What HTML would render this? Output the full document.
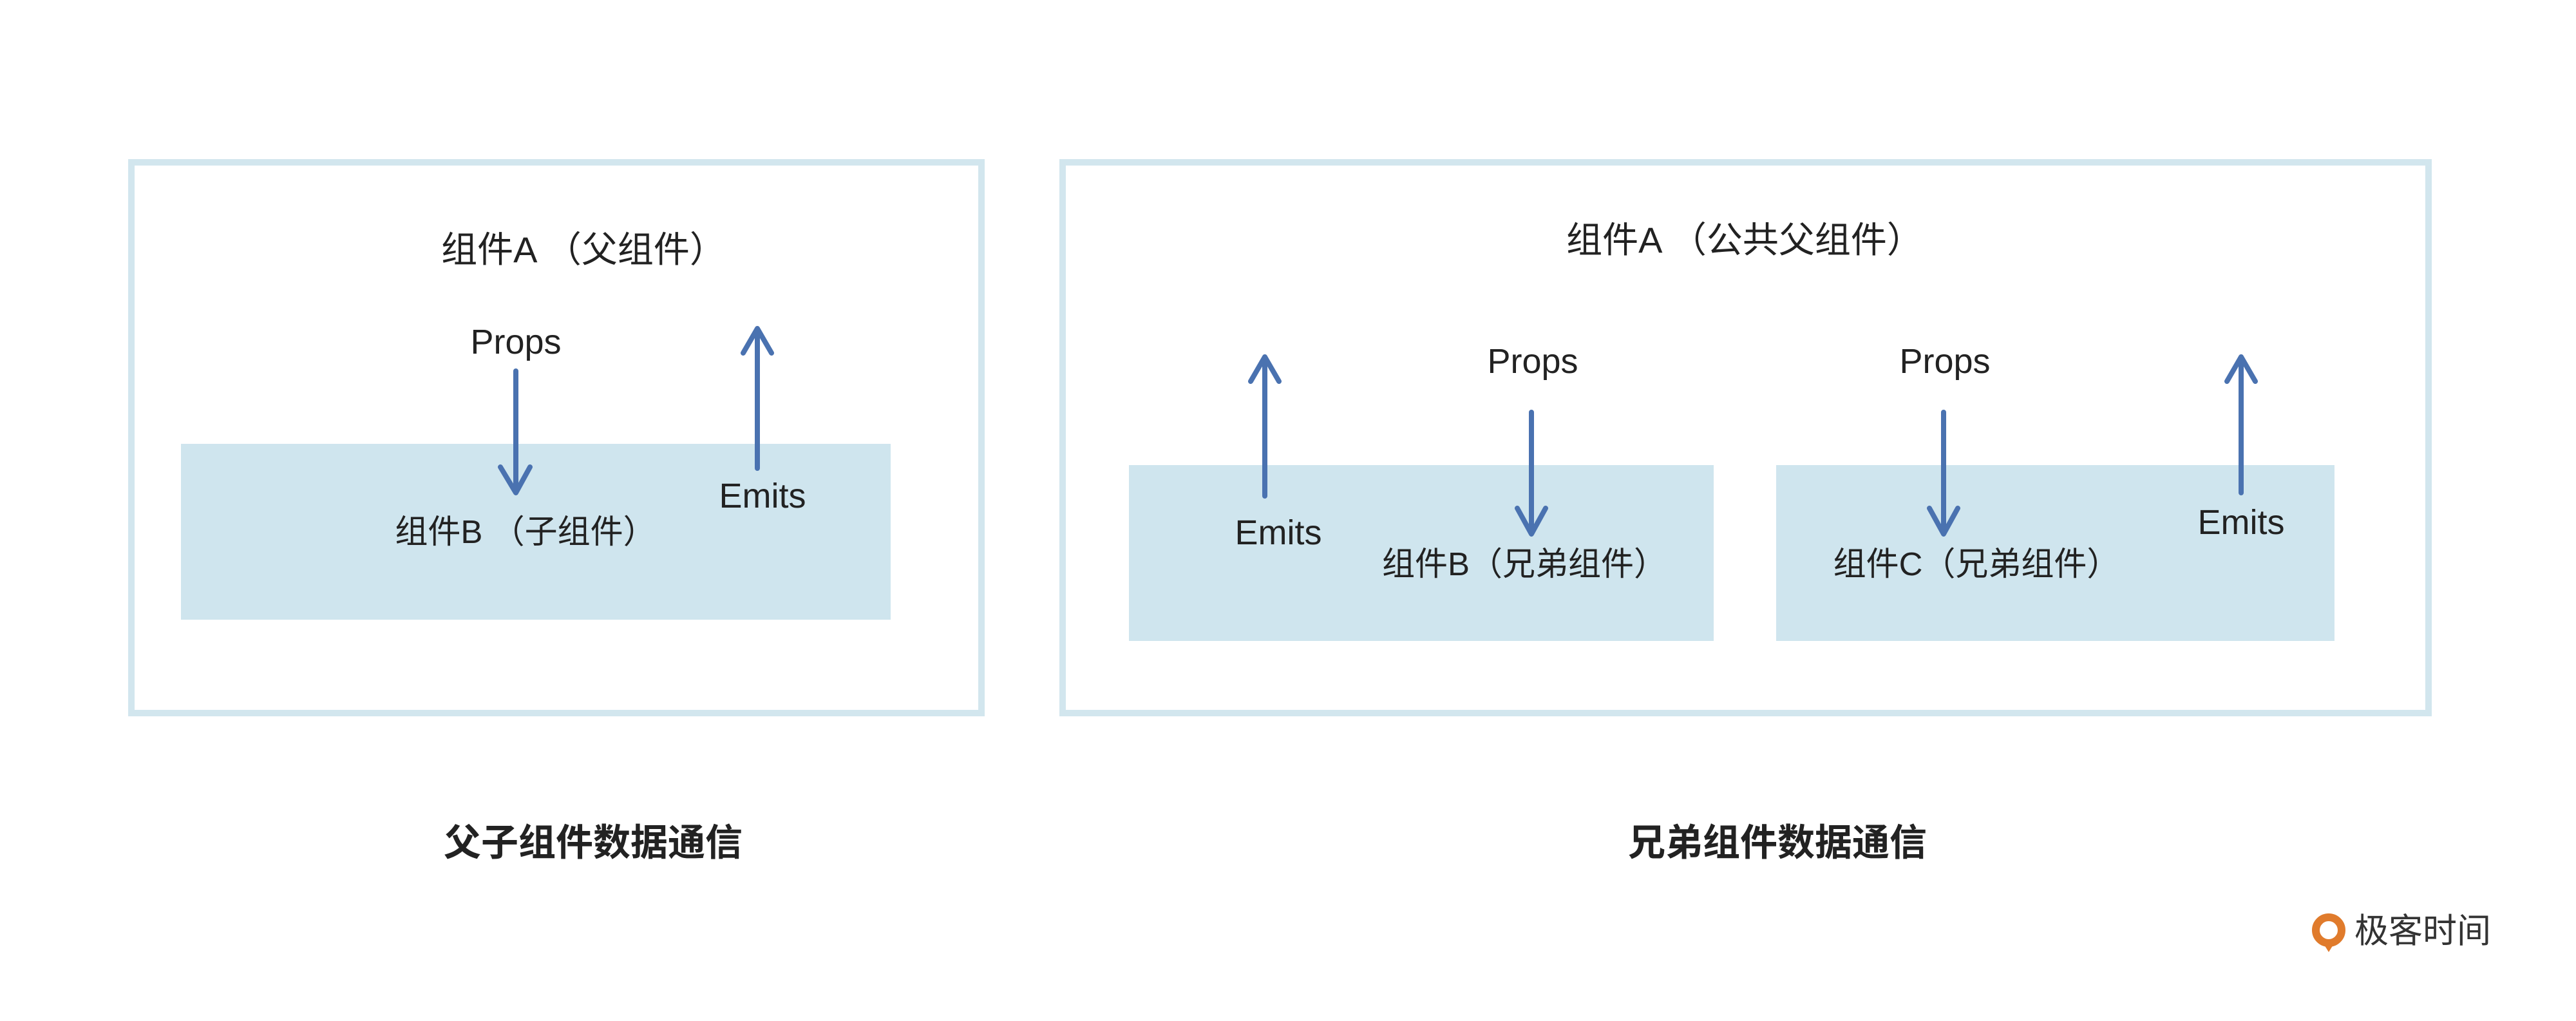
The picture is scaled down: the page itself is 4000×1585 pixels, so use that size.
<!DOCTYPE html>
<html><head><meta charset="utf-8"><style>
html,body{margin:0;padding:0;background:#fff;}
svg{display:block;}
text{font-family:"Liberation Sans","Noto Sans CJK SC",sans-serif;fill:#222;}
</style></head><body>
<svg width="4000" height="1585" viewBox="0 0 4000 1585" xmlns="http://www.w3.org/2000/svg">
<rect width="4000" height="1585" fill="#fff"/>
<rect x="204" y="252" width="1320" height="855" fill="none" stroke="#d2e6ee" stroke-width="10"/>
<rect x="1650" y="252" width="2121" height="855" fill="none" stroke="#d2e6ee" stroke-width="10"/>
<rect x="281" y="689" width="1102" height="273" fill="#cfe5ee"/>
<rect x="1753" y="722" width="908" height="273" fill="#cfe5ee"/>
<rect x="2758" y="722" width="867" height="273" fill="#cfe5ee"/>
<g font-size="50" text-anchor="middle">
<text x="906" y="407" font-size="56">组件A （父组件）</text>
<text x="801" y="549" font-size="54">Props</text>
<text x="1184" y="788" font-size="54">Emits</text>
<text x="816" y="843" font-size="51">组件B （子组件）</text>
<text x="2709" y="392" font-size="56">组件A （公共父组件）</text>
<text x="1985" y="845" font-size="54">Emits</text>
<text x="2380" y="579" font-size="54">Props</text>
<text x="2367" y="893" font-size="51">组件B（兄弟组件）</text>
<text x="3020" y="579" font-size="54">Props</text>
<text x="3069" y="893" font-size="51">组件C（兄弟组件）</text>
<text x="3480" y="829" font-size="54">Emits</text>
<text x="921" y="1328" font-size="58" font-weight="bold">父子组件数据通信</text>
<text x="2760" y="1328" font-size="58" font-weight="bold">兄弟组件数据通信</text>
</g>
<g stroke="#4a72b0" stroke-width="8" fill="none" stroke-linecap="round" stroke-linejoin="round">
<path d="M801 576 V763 M777 725 L801 765 L823 725"/>
<path d="M1176 727 V512 M1154 548 L1176 510 L1198 548"/>
<path d="M1964 770 V556 M1942 592 L1964 554 L1986 592"/>
<path d="M2378 640 V827 M2356 789 L2378 829 L2400 789"/>
<path d="M3018 640 V827 M2996 789 L3018 829 L3040 789"/>
<path d="M3480 765 V556 M3458 592 L3480 554 L3502 592"/>
</g>
<circle cx="3616" cy="1444" r="20" fill="none" stroke="#e07b2c" stroke-width="12"/>
<path d="M3606 1462 L3626 1462 L3616 1478 Z" fill="#e07b2c"/>
<text x="3656" y="1463" font-size="53" style="fill:#333">极客时间</text>
</svg>
</body></html>
